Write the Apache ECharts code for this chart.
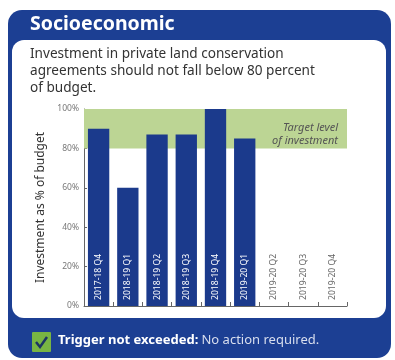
<!DOCTYPE html>
<html>
<head>
<meta charset="utf-8">
<script src="https://cdn.jsdelivr.net/npm/echarts@6/dist/echarts.min.js"></script>
<style>
  html, body { margin: 0; padding: 0; background: #fff; }
  #chart { width: 395px; height: 360px; }
</style>
</head>
<body>
<div id="chart"></div>
<script>
'use strict';
var quarters = ['2017-18 Q4', '2018-19 Q1', '2018-19 Q2', '2018-19 Q3', '2018-19 Q4',
                '2019-20 Q1', '2019-20 Q2', '2019-20 Q3', '2019-20 Q4'];
var investment = [90, 60, 87, 87, 100, 85, null, null, null];
var targetBand = [80, 100];

var navy = '#1b3a8c';
var myChart = echarts.init(document.getElementById('chart'));

var option = {
    backgroundColor: '#fff',
    animation: false,
    textStyle: { fontFamily: 'Noto Sans' },
    grid: { left: 84, right: 48, top: 109, bottom: 54 },
    graphic: [
        // outer blue card
        { type: 'rect', left: 8, top: 10, z: -10,
          shape: { width: 383, height: 348, r: 14 },
          style: { fill: '#1c3f93' } },
        // white panel
        { type: 'rect', left: 12, top: 40, z: -9,
          shape: { width: 374, height: 278, r: 12 },
          style: { fill: '#fff' } },
        { type: 'text', left: 30, top: 14, z: 5,
          style: { text: 'Socioeconomic', fill: '#fff', fontSize: 19.5, fontWeight: 'bold',
                   fontFamily: 'Noto Sans' } },
        { type: 'text', left: 30, top: 46, z: 5,
          style: { text: 'Investment in private land conservation\nagreements should not fall below 80 percent\nof budget.',
                   fill: '#333', fontSize: 13.6, lineHeight: 16.7, fontFamily: 'Noto Sans' } },
        // check box
        { type: 'rect', left: 32, top: 332, z: 5,
          shape: { width: 19, height: 20, r: 1 },
          style: { fill: '#78b543' } },
        { type: 'polyline', z: 6,
          shape: { points: [[36, 342], [40, 347], [47, 337]] },
          style: { stroke: '#1c3463', lineWidth: 2.5, fill: null } },
        { type: 'text', left: 58, top: 334, z: 5,
          style: { text: '{b|Trigger not exceeded:} {n|No action required.}',
                   fontFamily: 'Noto Sans',
                   rich: {
                       b: { fill: '#fff', fontSize: 13, fontWeight: 'bold', fontFamily: 'Noto Sans' },
                       n: { fill: '#d8deee', fontSize: 13, fontFamily: 'Noto Sans' }
                   } } }
    ],
    xAxis: {
        type: 'category',
        data: quarters,
        axisLine: { lineStyle: { color: '#666', width: 1 } },
        axisTick: { show: true, inside: true, length: 4, lineStyle: { color: '#666' } },
        axisLabel: {
            inside: true,
            rotate: 90,
            margin: 6,
            fontSize: 8.6,
            color: function (value, index) {
                return investment[index] != null ? '#fff' : '#666';
            }
        },
        z: 10
    },
    yAxis: {
        type: 'value',
        min: 0,
        max: 100,
        interval: 20,
        name: 'Investment as % of budget',
        nameLocation: 'middle',
        nameGap: 37,
        nameTextStyle: { color: '#333', fontSize: 12 },
        axisLine: { show: true, lineStyle: { color: '#666' } },
        axisTick: { show: true, inside: true, length: 3, lineStyle: { color: '#666' } },
        axisLabel: { formatter: '{value}%', fontSize: 8.5, color: '#777', margin: 5 },
        splitLine: { show: false }
    },
    series: [
        {
            type: 'bar',
            data: investment,
            barWidth: '73%',
            itemStyle: { color: navy },
            z: 3,
            markArea: {
                silent: true,
                itemStyle: { color: '#bcd594' },
                label: {
                    position: 'insideRight',
                    offset: [-4, 6],
                    formatter: 'Target level\nof investment',
                    align: 'right',
                    color: '#555',
                    fontSize: 11,
                    fontStyle: 'italic',
                    lineHeight: 13
                },
                data: [[{ yAxis: targetBand[0] }, { yAxis: targetBand[1] }]]
            }
        }
    ]
};

myChart.setOption(option);
</script>
</body>
</html>
